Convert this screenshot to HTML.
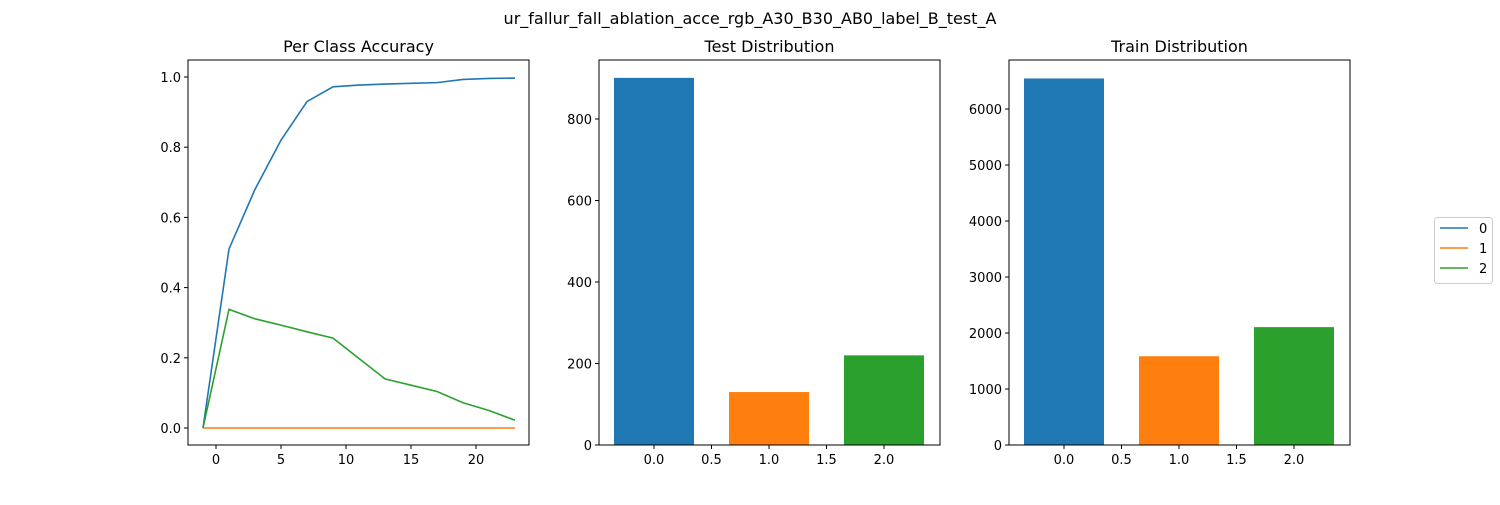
<!DOCTYPE html>
<html><head><meta charset="utf-8"><style>
body{margin:0;background:#fff;font-family:"Liberation Sans","DejaVu Sans",sans-serif}
svg text{font-family:"DejaVu Sans","Liberation Sans",sans-serif}
</style></head><body>
<svg id="s" width="1500" height="500" xmlns="http://www.w3.org/2000/svg">
<rect width="1500" height="500" fill="#fff"/>
<text x="750" y="24" font-size="16" text-anchor="middle">ur_fallur_fall_ablation_acce_rgb_A30_B30_AB0_label_B_test_A</text>
</svg>
<script>
const lineX=[-1,1,3,5,7,9,11,13,15,17,19,21,23];
const acc0=[0,0.51,0.68,0.82,0.93,0.972,0.977,0.980,0.982,0.984,0.993,0.996,0.997];
const acc1=[0,0,0,0,0,0,0,0,0,0,0,0,0];
const acc2=[0,0.338,0.311,0.293,0.274,0.256,0.198,0.14,0.122,0.104,0.072,0.05,0.022];
const lineXTicks=[0,5,10,15,20];
const lineYTicks=[0,0.2,0.4,0.6,0.8,1.0];
const barCats=[0,1,2];
const testCounts=[901,130,220];
const trainCounts=[6545,1585,2105];
const testTicks=[0,200,400,600,800];
const trainTicks=[0,1000,2000,3000,4000,5000,6000];
const barXTicks=[0,0.5,1,1.5,2];
const colors=['#1f77b4','#ff7f0e','#2ca02c'];
const NS='http://www.w3.org/2000/svg';
const svg=document.getElementById('s');
function el(t,a,p){const e=document.createElementNS(NS,t);for(const k in a)e.setAttribute(k,a[k]);(p||svg).appendChild(e);return e;}
const T=445,B=60;
function axes(x0,x1,title,name){
  const g=el('g',{});
  
  
  const t=el('text',{x:(x0+x1)/2,y:52,'font-size':16,'text-anchor':'middle'},g);t.textContent=title;
  
  
  return g;
}
function frame(g,x0,x1){el('rect',{x:x0,y:B,width:x1-x0,height:T-B,fill:'none',stroke:'#000','stroke-width':1},g);}
function xtick(g,px,label){el('line',{x1:px,x2:px,y1:T,y2:T+4,stroke:'#000'},g);const t=el('text',{x:px,y:T+19,'font-size':13,'text-anchor':'middle'},g);t.textContent=label;}
function ytick(g,x0,py,label){el('line',{x1:x0,x2:x0-4,y1:py,y2:py,stroke:'#000'},g);const t=el('text',{x:x0-7,y:py+5,'font-size':13,'text-anchor':'end'},g);t.textContent=label;}
// line chart
{
 const x0=188,x1=529;const g=axes(x0,x1,'Per Class Accuracy','accuracy-chart');
 const sx=v=>216+13*v, sy=v=>428-351*v;
 [acc0,acc1,acc2].forEach((s,i)=>{
  const p=el('polyline',{points:lineX.map((x,j)=>sx(x)+','+sy(s[j])).join(' '),fill:'none',stroke:colors[i],'stroke-width':1.6},g);
  
  
 });
 lineXTicks.forEach(v=>xtick(g,sx(v),String(v)));
 lineYTicks.forEach(v=>ytick(g,x0,sy(v),v.toFixed(1)));
 frame(g,x0,x1);
}
function bars(x0,x1,title,name,counts,ticks,perUnit){
 const g=axes(x0,x1,title,name);
 const sx=v=>x0+55+115*v, sy=v=>T-perUnit*v;
 barCats.forEach((c,i)=>{
  const r=el('rect',{x:sx(c)-40,y:sy(counts[i]),width:80,height:T-sy(counts[i]),fill:colors[i]},g);
  
  
 });
 barXTicks.forEach(v=>xtick(g,sx(v),v.toFixed(1)));
 ticks.forEach(v=>ytick(g,x0,sy(v),String(v)));
 frame(g,x0,x1);
}
bars(599,940,'Test Distribution','test-distribution',testCounts,testTicks,326/800);
bars(1009,1350,'Train Distribution','train-distribution',trainCounts,trainTicks,336/6000);
// legend
{
 const g=el('g',{});
 
 
 el('rect',{x:1434.5,y:217.5,width:58,height:66,rx:3,fill:'#fff',stroke:'#ccc'},g);
 ['0','1','2'].forEach((l,i)=>{
  const y=228+20*i;
  const ln=el('line',{x1:1440,x2:1468,y1:y,y2:y,stroke:colors[i],'stroke-width':1.6},g);
  
  
  const t=el('text',{x:1479,y:y+5,'font-size':13},g);t.textContent=l;
 });
}
</script>
</body></html>
